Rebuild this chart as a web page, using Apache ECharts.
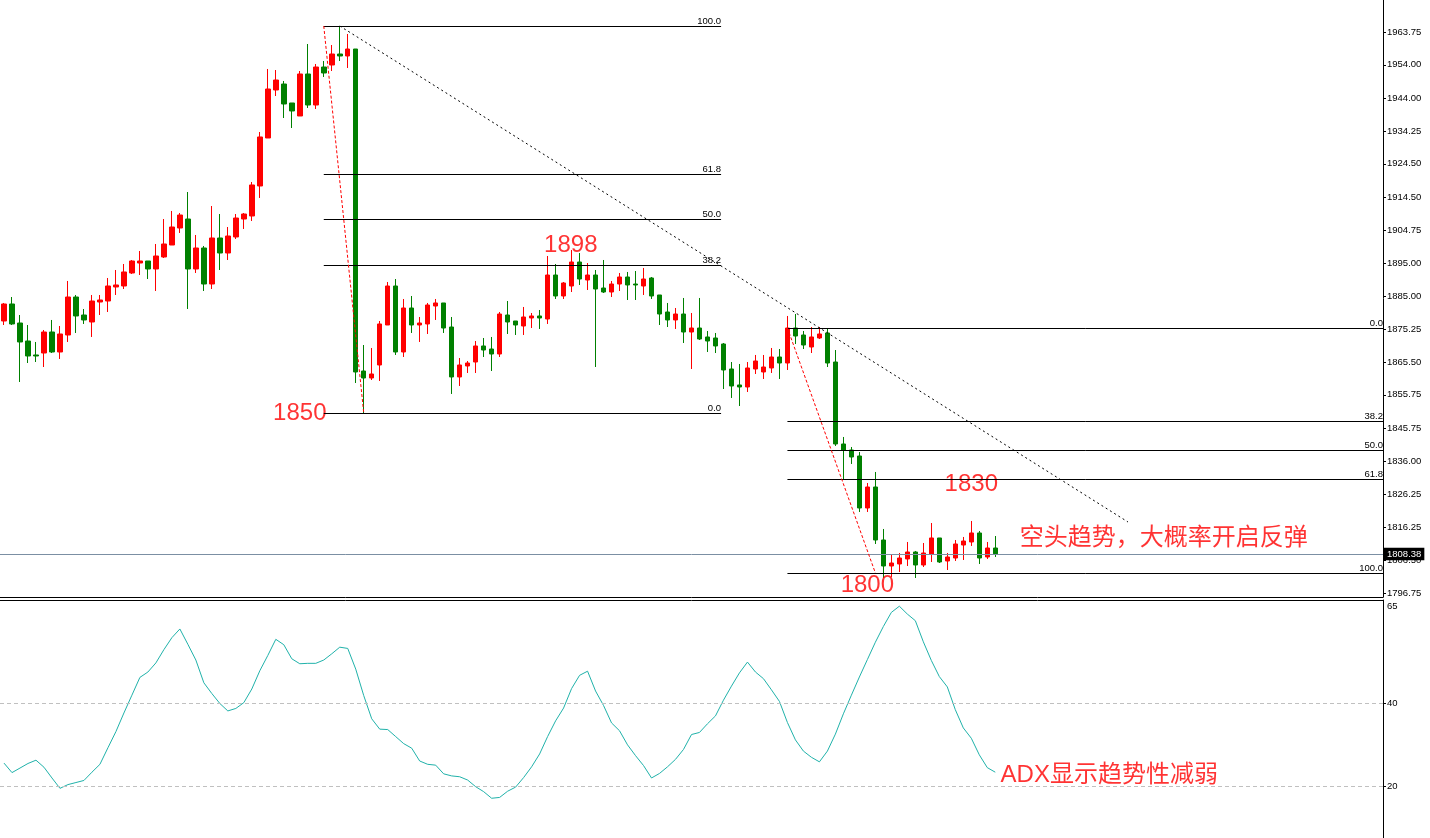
<!DOCTYPE html>
<html><head><meta charset="utf-8">
<script src="https://cdn.jsdelivr.net/npm/echarts@6.0.0/dist/echarts.min.js"></script>
<style>html,body{margin:0;padding:0;background:#fff}#c{width:1430px;height:838px}</style>
</head><body><div id="c"></div><script>
// ---- data ----
const opens = [1877.72,1882.78,1877.12,1871.76,1867.6,1868.19,1874.44,1868.49,1873.55,1884.86,
1879.5,1877.42,1883.37,1883.67,1887.84,1888.14,1892.01,1894.98,1895.58,1893.2,
1896.77,1900.34,1905.4,1908.08,1893.2,1899.45,1888.73,1902.43,1897.96,1902.73,
1908.08,1908.98,1917.91,1932.2,1946.49,1948.27,1942.62,1938.75,1951.25,1942.02,
1953.33,1953.93,1957.2,1956.61,1958.69,1862.83,1860.75,1864.62,1876.53,1888.14,
1868.49,1881.59,1876.53,1876.83,1882.18,1883.08,1875.93,1861.05,1864.32,1865.51,
1870.28,1869.38,1867.89,1879.5,1877.72,1876.23,1878.61,1879.21,1878.31,1891.41,
1885.16,1888.14,1895.28,1889.92,1891.41,1887.54,1886.35,1888.73,1890.82,1888.73,
1888.14,1890.52,1885.46,1880.4,1878.02,1879.8,1874.44,1875.63,1872.96,1872.66,
1870.87,1863.43,1858.67,1858.07,1863.43,1862.54,1863.73,1867.0,1865.21,1875.63,
1873.55,1869.98,1872.66,1874.15,1865.51,1841.1,1839.31,1837.53,1822.05,1828.3,
1812.52,1804.78,1805.38,1806.87,1808.95,1805.08,1808.35,1813.12,1806.27,1807.16,
1811.03,1811.93,1814.61,1807.46,1810.14];
const closes = [1882.78,1876.83,1871.47,1867.3,1867.3,1874.44,1868.49,1873.85,1884.86,1879.21,
1878.02,1883.67,1883.97,1888.14,1888.44,1892.31,1895.58,1895.58,1893.2,1897.07,
1900.64,1905.7,1909.27,1893.2,1899.45,1888.73,1902.43,1897.96,1903.02,1908.38,
1909.57,1918.21,1932.5,1946.78,1949.46,1942.32,1940.24,1951.25,1942.02,1953.33,
1951.55,1957.2,1956.61,1958.69,1862.54,1860.75,1861.94,1876.83,1888.14,1868.49,
1881.59,1876.53,1877.12,1882.48,1883.08,1875.63,1861.05,1864.62,1865.21,1870.28,
1869.08,1867.89,1879.8,1877.42,1876.53,1878.91,1879.21,1878.61,1891.41,1885.16,
1889.03,1895.28,1890.22,1891.41,1887.24,1886.35,1888.73,1890.82,1888.44,1888.44,
1890.22,1885.16,1879.8,1878.02,1879.8,1874.44,1875.63,1872.36,1871.76,1870.28,
1863.13,1858.37,1858.07,1863.73,1865.81,1864.02,1867.0,1865.21,1875.63,1873.25,
1870.57,1872.96,1873.85,1865.21,1841.1,1839.31,1837.23,1822.05,1828.3,1812.52,
1804.78,1805.67,1807.16,1808.95,1805.08,1808.65,1813.12,1805.97,1807.46,1811.33,
1812.22,1814.61,1807.16,1810.14,1808.38];
const lows = [1876.53,1876.53,1859.56,1865.21,1865.51,1864.02,1868.19,1866.41,1871.47,1874.15,
1876.83,1872.96,1879.5,1880.4,1885.46,1887.24,1891.71,1891.41,1890.22,1886.65,
1896.47,1900.34,1903.92,1881.29,1892.01,1886.65,1887.24,1892.9,1895.88,1902.13,
1905.11,1907.49,1914.34,1932.2,1944.7,1938.15,1935.17,1938.75,1941.13,1940.83,
1950.36,1952.14,1955.12,1953.04,1859.26,1850.33,1860.15,1859.86,1876.53,1867.6,
1867.0,1874.15,1871.47,1873.85,1878.02,1874.15,1855.99,1858.37,1862.24,1862.24,
1867.0,1862.83,1867.0,1873.85,1873.55,1873.55,1875.63,1875.34,1876.83,1884.27,
1884.27,1886.35,1888.44,1886.95,1864.02,1886.05,1884.86,1886.65,1883.97,1883.97,
1885.46,1884.27,1876.53,1875.93,1875.34,1871.17,1863.43,1872.06,1868.49,1868.19,
1857.47,1854.8,1852.41,1856.58,1861.94,1860.45,1862.24,1860.45,1863.13,1870.87,
1869.38,1868.19,1872.36,1864.02,1840.51,1830.68,1835.15,1820.86,1820.86,1811.33,
1801.21,1801.51,1802.99,1804.78,1801.21,1804.48,1805.97,1805.67,1803.59,1806.27,
1806.57,1810.74,1805.38,1806.87,1807.46];
const highs = [1883.08,1884.86,1879.5,1876.53,1871.47,1875.04,1878.02,1876.23,1889.63,1885.46,
1881.29,1885.46,1885.46,1890.52,1892.9,1894.69,1895.88,1898.56,1895.58,1900.64,
1908.08,1910.47,1909.87,1916.12,1903.32,1900.05,1911.95,1909.57,1905.7,1909.57,
1909.87,1919.1,1933.98,1952.74,1952.44,1949.17,1942.62,1952.14,1960.18,1954.23,
1955.12,1959.88,1965.54,1963.16,1958.69,1870.57,1869.68,1877.72,1889.33,1890.22,
1884.27,1885.16,1878.91,1883.08,1884.27,1883.08,1878.91,1866.7,1865.81,1871.76,
1872.66,1872.96,1880.4,1883.67,1877.72,1881.89,1880.1,1880.99,1897.07,1894.69,
1889.33,1898.85,1897.96,1894.98,1892.9,1895.88,1889.63,1892.01,1892.31,1892.6,
1893.5,1890.82,1885.46,1883.08,1881.59,1884.57,1880.1,1884.57,1874.74,1874.15,
1871.17,1865.51,1864.92,1865.51,1867.6,1867.6,1869.68,1869.38,1879.21,1879.8,
1874.74,1875.93,1875.93,1875.34,1869.08,1843.19,1840.21,1838.72,1829.49,1832.77,
1815.8,1808.06,1808.65,1811.93,1809.25,1811.63,1817.58,1813.12,1808.65,1812.52,
1813.42,1818.18,1815.2,1811.93,1813.71];
const adx = [25.6,23.3,24.4,25.5,26.3,24.6,22.0,19.5,20.4,20.9,
21.4,23.4,25.3,29.3,33.2,37.7,42.0,46.3,47.6,49.8,
53.0,55.9,58.0,54.3,50.5,45.0,42.4,40.0,38.2,38.8,
40.2,43.5,47.9,51.6,55.5,54.2,50.8,49.6,49.7,49.7,
50.5,52.0,53.6,53.3,48.3,41.9,36.3,33.8,33.7,32.0,
30.3,29.2,26.1,25.3,25.1,23.0,22.5,22.3,21.5,19.9,
18.7,17.1,17.3,18.8,19.8,22.1,24.7,27.8,32.0,35.8,
38.9,43.6,46.8,47.8,43.0,39.5,35.3,33.4,30.0,27.4,
25.0,22.0,23.1,24.7,26.5,28.9,32.5,33.0,35.1,37.0,
40.8,44.2,47.4,50.0,47.6,46.0,43.3,40.5,35.4,31.2,
28.5,27.0,25.9,28.5,32.6,37.5,42.0,46.4,50.6,54.8,
58.6,62.0,63.5,61.6,60.0,54.9,50.4,46.5,44.0,38.5,
34.1,31.6,27.6,24.5,23.4];
const priceTicks = [1796.75,1806.50,1816.25,1826.25,1836.00,1845.75,1855.75,1865.50,1875.25,1885.00,1895.00,1904.75,1914.50,1924.50,1934.25,1944.00,1954.00,1963.75,1973.50];
const adxTicks = [20, 40, 65];
const fibLevels = [0, 38.2, 50, 61.8, 100];
// fib anchors: [startIndex, endIndex, price at 0%, price at 100%]
const fib1 = [40, 89.7, 1850.33, 1965.54];
const fib2 = [98, 172.5, 1875.63, 1802.70];
// diagonal helper lines: [x0, p0, x1, p1]
const redLine1 = [40, 1965.54, 45, 1850.33];
const redLine2 = [98, 1875.63, 109, 1802.70];
const trendLine = [42, 1965.54, 140.6, 1817.88];
// text notes: [x index, price, text]
const priceNotes = [[70.9, 1900.34, '1898', 'c'], [37.0, 1850.33, '1850', 'c'], [121.0, 1829.19, '1830', 'c'], [108.0, 1799.13, '1800', 'c'], [127.0, 1813.12, '空头趋势，大概率开启反弹', 'l']];
const adxNotes = [[124.6, 22.7, 'ADX显示趋势性减弱', 'l']];

// ---- chart ----
const N = 173;
const categories = Array.from({length: N}, (_, i) => 'b' + i);
const FONT = "'Liberation Sans', 'Noto Sans CJK SC', sans-serif";
const lastPrice = closes[closes.length - 1];

function fibData(f) {
  return fibLevels.map(lv => {
    const p = f[2] + (f[3] - f[2]) * lv / 100;
    return [{coord: [f[0], p], name: lv.toFixed(1),
             lineStyle: {color: '#000', width: 1, type: 'solid'},
             label: {show: true, position: 'insideEndTop', formatter: lv.toFixed(1), color: '#000', fontSize: 9.5, fontFamily: FONT, distance: 0}},
            {coord: [f[1], p]}];
  });
}
function diag(l, color, dash) {
  return [{coord: [l[0], l[1]], lineStyle: {color: color, width: 1, type: dash}, label: {show: false}}, {coord: [l[2], l[3]]}];
}
function notes(arr) {
  return arr.map(n => ({value: [n[0], n[1]], name: n[2],
    label: {position: n[3] === 'l' ? 'right' : 'inside', distance: 0}}));
}

const chart = echarts.init(document.getElementById('c'), null, {renderer: 'canvas'});
chart.setOption({
  animation: false,
  backgroundColor: '#fff',
  grid: [
    {left: 0, top: 0, width: 1383, height: 597},
    {left: 0, top: 600, width: 1383, height: 238}
  ],
  xAxis: [
    {gridIndex: 0, type: 'category', data: categories, boundaryGap: true,
     axisLine: {show: true, onZero: false, lineStyle: {color: '#000', width: 1}}, axisTick: {show: false}, axisLabel: {show: false}, splitLine: {show: false}},
    {gridIndex: 0, type: 'value', min: -0.5, max: N - 0.5, show: false},
    {gridIndex: 1, type: 'value', min: -0.5, max: N - 0.5, position: 'top',
     axisLine: {show: true, onZero: false, lineStyle: {color: '#000', width: 1}}, axisTick: {show: false}, axisLabel: {show: false}, splitLine: {show: false}}
  ],
  yAxis: [
    {gridIndex: 0, type: 'value', position: 'right', min: 1795.55, max: 1973.28,
     axisLine: {show: true, onZero: false, lineStyle: {color: '#000', width: 1}},
     axisTick: {show: true, length: 3, customValues: priceTicks, lineStyle: {color: '#000'}},
     axisLabel: {show: true, customValues: priceTicks, formatter: v => v.toFixed(2), color: '#000', fontSize: 9.5, fontFamily: FONT, margin: 4},
     splitLine: {show: false}},
    {gridIndex: 1, type: 'value', position: 'right', min: 7.5, max: 65,
     axisLine: {show: true, onZero: false, lineStyle: {color: '#000', width: 1}},
     axisTick: {show: true, length: 3, customValues: [20, 40], lineStyle: {color: '#000'}},
     axisLabel: {show: true, customValues: adxTicks, formatter: v => v === 65 ? '{t|65}' : String(v), color: '#000', fontSize: 9.5, fontFamily: FONT, margin: 4,
       rich: {t: {fontSize: 9.5, fontFamily: FONT, color: '#000', padding: [13, 0, 0, 0]}}},
     splitLine: {show: false}}
  ],
  series: [
    {type: 'candlestick', xAxisIndex: 0, yAxisIndex: 0, barWidth: 5,
     data: opens.map((o, i) => [o, closes[i], lows[i], highs[i]]),
     itemStyle: {color: '#ff0000', color0: '#008000', borderColor: '#ff0000', borderColor0: '#008000', borderWidth: 1},
     markLine: {silent: true, symbol: ['none', 'none'], animation: false,
       lineStyle: {color: '#7b8fa3', width: 1, type: 'solid'},
       label: {show: true, position: 'end', formatter: lastPrice.toFixed(2), backgroundColor: '#000', color: '#fff', fontSize: 9.5, fontFamily: FONT, padding: [2, 3, 1, 3], distance: 1},
       data: [{yAxis: lastPrice}]}},
    {type: 'scatter', xAxisIndex: 1, yAxisIndex: 0, symbolSize: 1, itemStyle: {color: 'rgba(0,0,0,0)'},
     label: {show: true, formatter: '{b}', color: '#ff0000', fontSize: 24, fontFamily: FONT},
     data: notes(priceNotes),
     markLine: {silent: true, symbol: ['none', 'none'], animation: false,
       data: fibData(fib1).concat(fibData(fib2)).concat([diag(redLine1, '#ff0000', [3, 2]), diag(redLine2, '#ff0000', [3, 2]), diag(trendLine, '#000', [2, 3])])}},
    {type: 'line', xAxisIndex: 2, yAxisIndex: 1, symbol: 'none',
     data: adx.map((v, i) => [i, v]),
     lineStyle: {color: '#20b2aa', width: 1},
     markLine: {silent: true, symbol: ['none', 'none'], animation: false, label: {show: false},
       lineStyle: {color: '#c0c0c0', width: 1, type: [4, 3]},
       data: [{yAxis: 20}, {yAxis: 40}]}},
    {type: 'scatter', xAxisIndex: 2, yAxisIndex: 1, symbolSize: 1, itemStyle: {color: 'rgba(0,0,0,0)'},
     label: {show: true, formatter: '{b}', color: '#ff0000', fontSize: 24, fontFamily: FONT},
     data: notes(adxNotes)}
  ]
});
</script></body></html>
